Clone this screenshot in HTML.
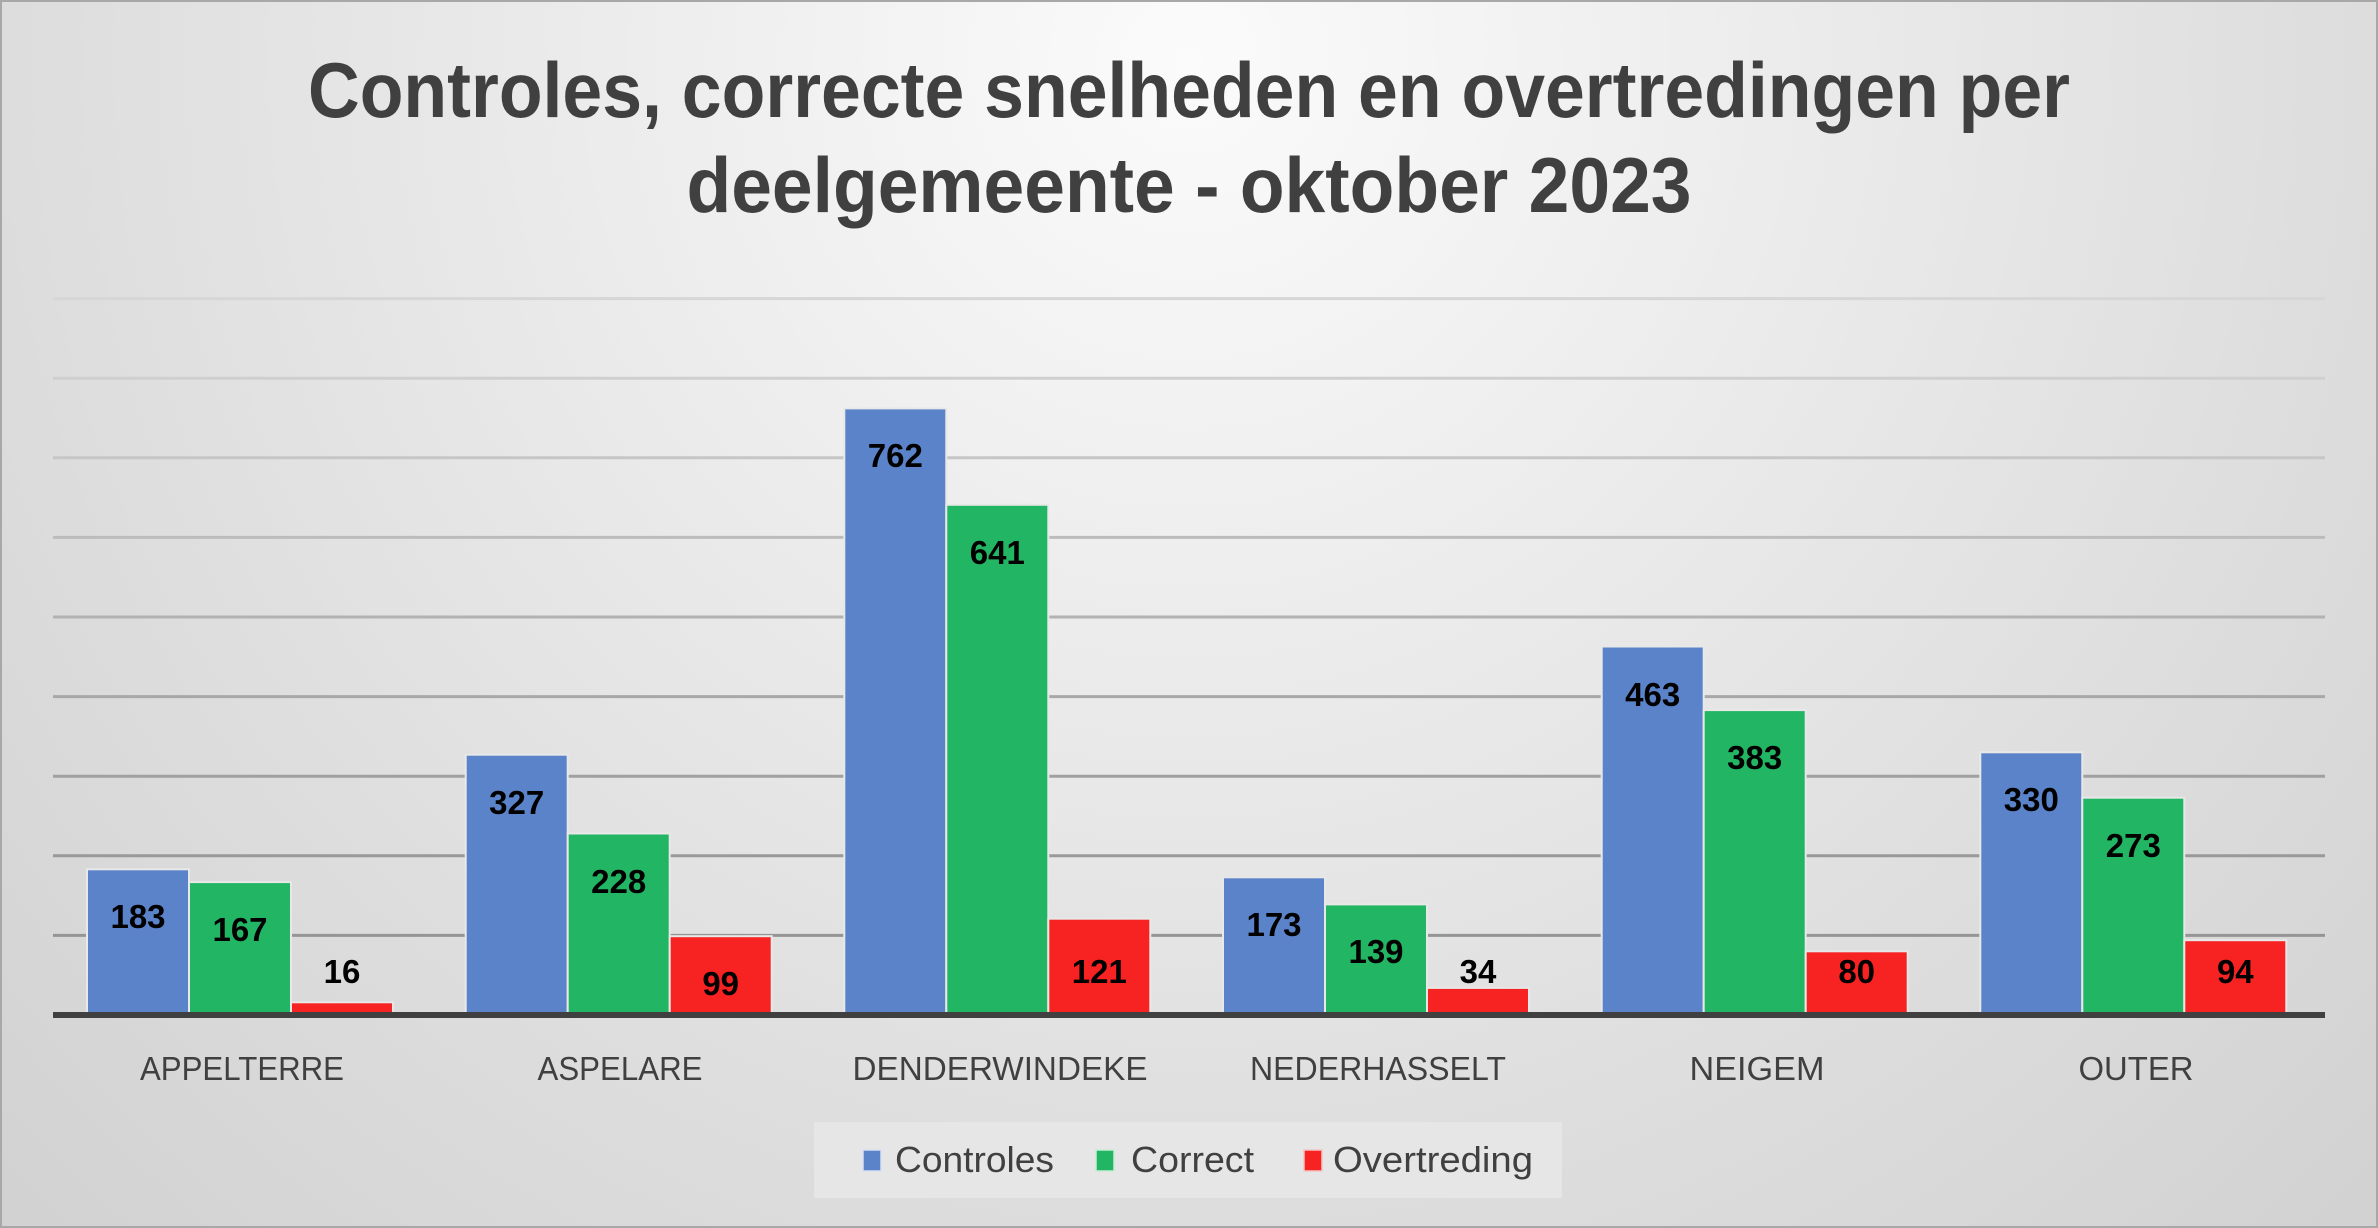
<!DOCTYPE html>
<html><head><meta charset="utf-8"><style>html,body{margin:0;padding:0;overflow:hidden}svg{display:block}</style></head>
<body>
<svg width="2378" height="1228" viewBox="0 0 2378 1228" xmlns="http://www.w3.org/2000/svg" font-family="'Liberation Sans', sans-serif">
<defs>
<radialGradient id="bg" cx="0.5" cy="0.05" r="0.95" gradientTransform="translate(0.5 0.05) scale(1 1.9) translate(-0.5 -0.05)">
<stop offset="0" stop-color="#fbfbfb"/><stop offset="0.5" stop-color="#dedede"/><stop offset="1" stop-color="#c4c4c4"/>
</radialGradient>
</defs>
<rect x="0" y="0" width="2378" height="1228" fill="url(#bg)" stroke="#a8a8a8" stroke-width="4"/>
<g fill="#404040" font-weight="bold" font-size="78" text-anchor="middle">
<text x="1189" y="117" textLength="1762" lengthAdjust="spacingAndGlyphs">Controles, correcte snelheden en overtredingen per</text>
<text x="1189" y="212" textLength="1005" lengthAdjust="spacingAndGlyphs">deelgemeente - oktober 2023</text>
</g>
<g stroke-width="3">
<line x1="53" x2="2325" y1="298.6" y2="298.6" stroke="#d6d6d6"/>
<line x1="53" x2="2325" y1="378.2" y2="378.2" stroke="#cfcfcf"/>
<line x1="53" x2="2325" y1="457.8" y2="457.8" stroke="#c6c6c6"/>
<line x1="53" x2="2325" y1="537.4" y2="537.4" stroke="#bcbcbc"/>
<line x1="53" x2="2325" y1="617" y2="617" stroke="#b2b2b2"/>
<line x1="53" x2="2325" y1="696.6" y2="696.6" stroke="#a8a8a8"/>
<line x1="53" x2="2325" y1="776.2" y2="776.2" stroke="#a0a0a0"/>
<line x1="53" x2="2325" y1="855.8" y2="855.8" stroke="#999"/>
<line x1="53" x2="2325" y1="935.4" y2="935.4" stroke="#959595"/>
</g>
<g stroke="#e8e8e8" stroke-width="2">
<g fill="#5b83c9">
<rect x="87" y="869.3" width="102" height="145.7"/>
<rect x="465.7" y="754.7" width="102" height="260.3"/>
<rect x="844.3" y="408.4" width="102" height="606.6"/>
<rect x="1223" y="877.3" width="102" height="137.7"/>
<rect x="1601.7" y="646.5" width="102" height="368.5"/>
<rect x="1980.3" y="752.3" width="102" height="262.7"/>
</g>
<g fill="#22b563">
<rect x="189" y="882.1" width="102" height="132.9"/>
<rect x="567.7" y="833.5" width="102" height="181.5"/>
<rect x="946.3" y="504.8" width="102" height="510.2"/>
<rect x="1325" y="904.4" width="102" height="110.6"/>
<rect x="1703.7" y="710.1" width="102" height="304.9"/>
<rect x="2082.3" y="797.7" width="102" height="217.3"/>
</g>
<g fill="#f72222">
<rect x="291" y="1002.3" width="102" height="12.7"/>
<rect x="669.7" y="936.2" width="102" height="78.8"/>
<rect x="1048.3" y="918.7" width="102" height="96.3"/>
<rect x="1427" y="987.9" width="102" height="27.1"/>
<rect x="1805.7" y="951.3" width="102" height="63.7"/>
<rect x="2184.3" y="940.2" width="102" height="74.8"/>
</g>
</g>
<line x1="53" x2="2325" y1="1015" y2="1015" stroke="#404040" stroke-width="6"/>
<g fill="#000" font-weight="bold" font-size="33" text-anchor="middle">
<text x="138" y="928">183</text><text x="240" y="941">167</text><text x="342" y="983">16</text>
<text x="516.7" y="814">327</text><text x="618.7" y="893">228</text><text x="720.7" y="995">99</text>
<text x="895.3" y="467">762</text><text x="997.3" y="564">641</text><text x="1099.3" y="983">121</text>
<text x="1274" y="936">173</text><text x="1376" y="963">139</text><text x="1478" y="983">34</text>
<text x="1652.7" y="706">463</text><text x="1754.7" y="769">383</text><text x="1856.7" y="983">80</text>
<text x="2031.3" y="811">330</text><text x="2133.3" y="857">273</text><text x="2235.3" y="983">94</text>
</g>
<g fill="#404040" font-size="33" text-anchor="middle">
<text x="242" y="1080" textLength="204" lengthAdjust="spacingAndGlyphs">APPELTERRE</text>
<text x="620" y="1080" textLength="165" lengthAdjust="spacingAndGlyphs">ASPELARE</text>
<text x="1000" y="1080" textLength="295" lengthAdjust="spacingAndGlyphs">DENDERWINDEKE</text>
<text x="1378" y="1080" textLength="256" lengthAdjust="spacingAndGlyphs">NEDERHASSELT</text>
<text x="1757" y="1080" textLength="135" lengthAdjust="spacingAndGlyphs">NEIGEM</text>
<text x="2136" y="1080" textLength="115" lengthAdjust="spacingAndGlyphs">OUTER</text>
</g>
<rect x="814" y="1122" width="748" height="76" fill="#e6e6e6"/>
<rect x="863" y="1150" width="18" height="21" fill="#5b83c9" stroke="#d8e0f0" stroke-width="1.5"/>
<rect x="1096" y="1150" width="18" height="21" fill="#22b563" stroke="#c8ecd6" stroke-width="1.5"/>
<rect x="1304" y="1150" width="18" height="21" fill="#f72222" stroke="#f4c4c4" stroke-width="1.5"/>
<g fill="#404040" font-size="36">
<text x="895" y="1172" textLength="159" lengthAdjust="spacingAndGlyphs">Controles</text>
<text x="1131" y="1172" textLength="123" lengthAdjust="spacingAndGlyphs">Correct</text>
<text x="1333" y="1172" textLength="200" lengthAdjust="spacingAndGlyphs">Overtreding</text>
</g>
</svg>
</body></html>
